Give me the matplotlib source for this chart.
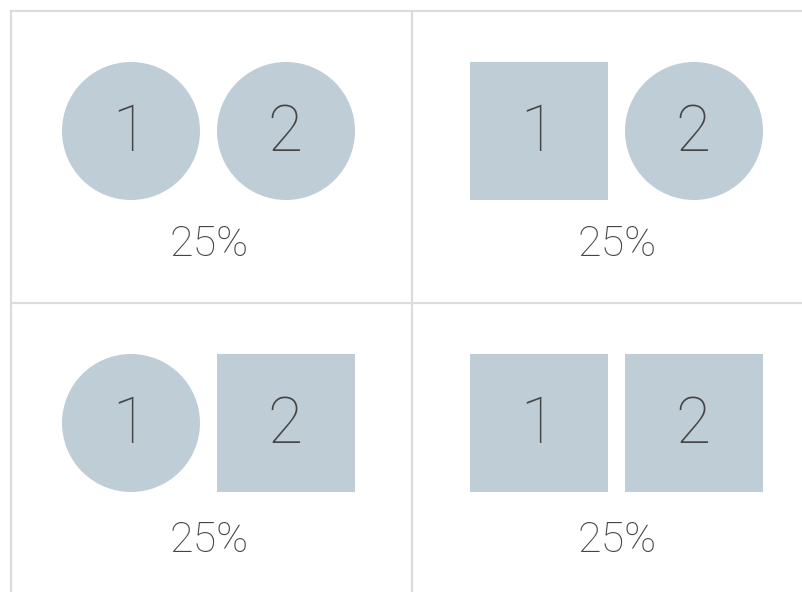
import matplotlib.pyplot as plt
from matplotlib.patches import Circle, Rectangle

# cell layout: which shape sits in slot 1 and slot 2, and the share printed below
cell_shapes = [
    ['circle', 'circle'],
    ['square', 'circle'],
    ['circle', 'square'],
    ['square', 'square'],
]
slot_labels = ['1', '2']
cell_values = ['25%', '25%', '25%', '25%']

FILL = '#bfcdd6'
TEXT = '#454545'
GRID = '#dcdcdc'
FONT = 'Roboto'

fig = plt.figure(figsize=(8.03, 5.92), dpi=100)
ax = fig.add_axes([0, 0, 1, 1])
ax.set_xlim(0, 803)
ax.set_ylim(592, 0)
ax.axis('off')

# grid lines
ax.plot([11, 11], [11, 592], color=GRID, lw=1.6)
ax.plot([412, 412], [11, 592], color=GRID, lw=1.6)
ax.plot([11, 803], [11, 11], color=GRID, lw=1.6)
ax.plot([11, 803], [303, 303], color=GRID, lw=1.6)

r = 69
col_x = [131, 539]
row_y = [131, 423]
text_y = [244, 541]
for i, shapes in enumerate(cell_shapes):
    col, row = i % 2, i // 2
    cy = row_y[row]
    for j, (shape, lab) in enumerate(zip(shapes, slot_labels)):
        cx = col_x[col] + j * 155
        if shape == 'circle':
            ax.add_patch(Circle((cx, cy), r, facecolor=FILL, edgecolor='none'))
        else:
            ax.add_patch(Rectangle((cx - r, cy - r), 2 * r, 2 * r,
                                   facecolor=FILL, edgecolor='none'))
        ax.text(cx - 1, cy + 2, lab, ha='center', va='center', fontsize=46,
                family=FONT, fontweight='light', color=TEXT)
    ax.text(col_x[col] + 78, text_y[row], cell_values[i], ha='center',
            va='center', fontsize=31, family=FONT, fontweight='light',
            color=TEXT)

fig.savefig('out.png', dpi=100)
